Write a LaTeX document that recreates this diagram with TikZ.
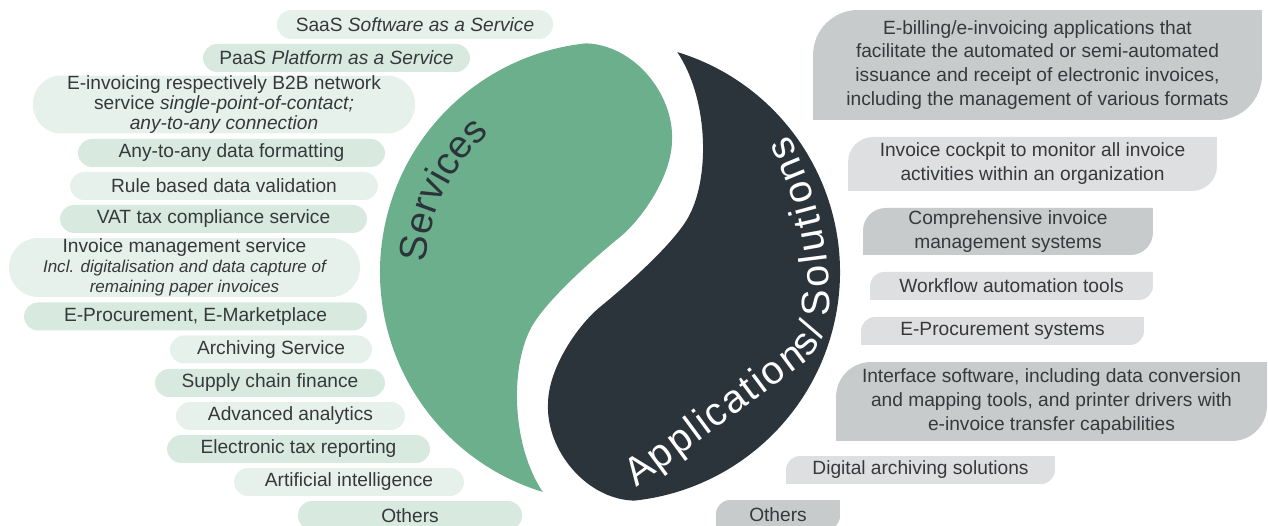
\documentclass[tikz,border=0pt]{standalone}
\usepackage{fontspec}
\setmainfont{Liberation Sans}
\usepackage{tikz}
\usetikzlibrary{backgrounds,decorations.text}

\definecolor{servgreen}{HTML}{6CAF8D}
\definecolor{appdark}{HTML}{2C343B}
\definecolor{pillA}{HTML}{E7F1EB}
\definecolor{pillB}{HTML}{D8E9E0}
\definecolor{leafA}{HTML}{C8CBCB}
\definecolor{leafB}{HTML}{DEDFE0}
\definecolor{ink}{HTML}{36393B}

\newcommand\ringfont{\fontsize{22}{22}\selectfont}
\newcommand\appfont{\fontsize{22.5}{22.5}\selectfont}
\newcommand\smallit{\fontsize{9.7}{11}\selectfont\itshape}
% leaf shaped box behind a node: node, corner radius, colour
\newcommand\leafbg[3]{%
  \fill[#3] (#1.south west) -- ([yshift=-#2]#1.north west)
    arc[start angle=180, end angle=90, radius=#2] -- (#1.north east)
    -- ([yshift=#2]#1.south east)
    arc[start angle=0, end angle=-90, radius=#2] -- cycle;}

\begin{document}
\begin{tikzpicture}[x=0.02cm, y=-0.02cm,
    pill/.style={rounded corners=0.28cm, minimum height=0.56cm, inner sep=0pt, outer sep=0pt,
      text=ink, align=center, font=\fontsize{10.9}{11.4}\selectfont},
    leaf/.style={minimum height=0.56cm, inner sep=0pt, outer sep=0pt,
      text=ink, align=center, font=\fontsize{10.9}{13.6}\selectfont}]
		\useasboundingbox (0,0) rectangle (1268,526);

		% the two halves
		\fill[servgreen] (542.75,491.95) arc[start angle=253, end angle=96, radius=4.6cm]
			.. controls (635,45) and (674,95) .. (672,140)
			.. controls (672,175) and (643,218) .. (620,237)
			.. controls (593,259) and (543,303) .. (530,330)
			.. controls (510,370) and (512,446) .. (542.75,491.95) -- cycle;
		\fill[appdark] (677.25,52.05) arc[start angle=73, end angle=-84, radius=4.6cm]
			.. controls (585,499) and (546,449) .. (548,404)
			.. controls (548,369) and (577,326) .. (600,307)
			.. controls (627,285) and (677,241) .. (690,214)
			.. controls (710,174) and (708,98) .. (677.25,52.05) -- cycle;

		\path[decorate, decoration={text along path, text color=appdark,
			text={|\ringfont|Services}}]
			(426.25,262.4) arc[start angle=177, end angle=100, radius=3.68cm];
		\path[decorate, decoration={text along path, text color=white, text align=fit to path,
			text={|\appfont|Applications/}}]
			(636,488) -- (802,365) .. controls (812,357) and (820,344) .. (826,330);
		\path[decorate, decoration={text along path, text color=white, text align=fit to path,
			text={|\appfont|Solutions}}]
			(829,316) .. controls (832,258) and (818,190) .. (788,135);

		% services
		\node[pill, fill=pillA, minimum width=5.52cm, minimum height=0.58cm] (saas) at (415,24.5) {SaaS \textit{Software as a Service}};
		\node[pill, fill=pillB, minimum width=5.34cm] (paas) at (336.5,58) {PaaS \textit{Platform as a Service}};
		\node[pill, fill=pillA, minimum width=7.64cm, minimum height=1.14cm, rounded corners=0.56cm] (network) at (224,104.5)
			{E-invoicing respectively B2B network\\ service \textit{single-point-of-contact;}\\ \textit{any-to-any connection}};
		\node[pill, fill=pillB, minimum width=6.14cm] (formatting) at (231.5,153) {Any-to-any data formatting};
		\node[pill, fill=pillA, minimum width=6.16cm] (validation) at (224,186) {Rule based data validation};
		\node[pill, fill=pillB, minimum width=6.14cm] (vat) at (213.5,219) {VAT tax compliance service};
		\node[pill, fill=pillA, minimum width=7.02cm, minimum height=1.18cm, rounded corners=0.58cm] (invmgmt) at (184.5,267.5)
			{Invoice management service\\ \smallit Incl. digitalisation and data capture of\\ \smallit remaining paper invoices};
		\node[pill, fill=pillB, minimum width=6.86cm] (marketplace) at (195.5,316.5) {E-Procurement, E-Marketplace};
		\node[pill, fill=pillA, minimum width=4.04cm] (archiving) at (271,349.5) {Archiving Service};
		\node[pill, fill=pillB, minimum width=4.6cm] (supply) at (270,383) {Supply chain finance};
		\node[pill, fill=pillA, minimum width=4.58cm] (analytics) at (290.5,416) {Advanced analytics};
		\node[pill, fill=pillB, minimum width=5.26cm] (taxrep) at (298.5,449) {Electronic tax reporting};
		\node[pill, fill=pillA, minimum width=4.6cm] (ai) at (349,482) {Artificial intelligence};
		\node[pill, fill=pillB, minimum width=4.48cm, minimum height=0.58cm] (otherserv) at (410,515.5) {Others};

		% applications
		\node[leaf, minimum width=8.98cm, minimum height=2.2cm] (ebilling) at (1037.5,65)
			{E-billing/e-invoicing applications that\\ facilitate the automated or semi-automated\\ issuance and receipt of electronic invoices,\\ including the management of various formats};
		\node[leaf, minimum width=7.38cm, minimum height=1.08cm] (cockpit) at (1032.5,164)
			{Invoice cockpit to monitor all invoice\\ activities within an organization};
		\node[leaf, minimum width=5.8cm, minimum height=0.94cm] (ims) at (1008,231.5)
			{Comprehensive invoice\\ management systems};
		\node[leaf, minimum width=5.66cm] (workflow) at (1011.5,286) {Workflow automation tools};
		\node[leaf, minimum width=5.66cm] (procsys) at (1002.5,331) {E-Procurement systems};
		\node[leaf, minimum width=8.62cm, minimum height=1.58cm] (interface) at (1051.5,401.5)
			{Interface software, including data conversion\\ and mapping tools, and printer drivers with\\ e-invoice transfer capabilities};
		\node[leaf, minimum width=5.38cm] (digarch) at (920.5,470) {Digital archiving solutions};
		\node[leaf, minimum width=2.48cm, minimum height=0.6cm] (otherapp) at (778,515) {Others};

		\begin{pgfonlayer}{background}
			\leafbg{ebilling}{0.9cm}{leafA}
			\leafbg{cockpit}{0.5cm}{leafB}
			\leafbg{ims}{0.45cm}{leafA}
			\leafbg{workflow}{0.28cm}{leafB}
			\leafbg{procsys}{0.28cm}{leafB}
			\leafbg{interface}{0.7cm}{leafA}
			\leafbg{digarch}{0.28cm}{leafB}
			\leafbg{otherapp}{0.28cm}{leafA}
		\end{pgfonlayer}
	\end{tikzpicture}
\end{document}
